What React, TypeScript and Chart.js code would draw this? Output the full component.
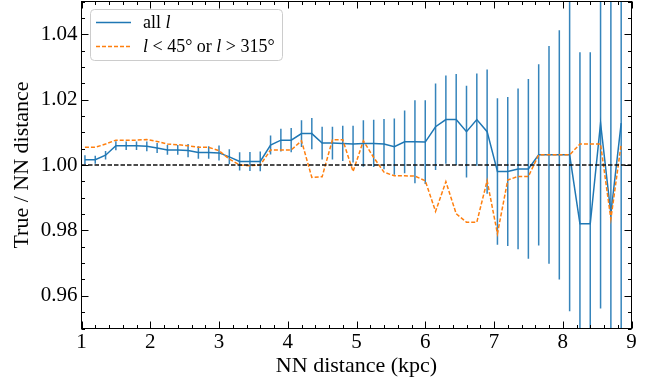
import React, { useEffect, useRef } from "react";
import { Chart, registerables } from "chart.js";
Chart.register(...registerables);

// NN distance bin centres (kpc)
const nnDistance = [
  1.05, 1.2, 1.35, 1.5, 1.65, 1.8, 1.95, 2.1, 2.25, 2.4, 2.55, 2.7, 2.85, 3.0,
  3.15, 3.3, 3.45, 3.6, 3.75, 3.9, 4.05, 4.2, 4.35, 4.5, 4.65, 4.8, 4.95, 5.1,
  5.25, 5.4, 5.55, 5.7, 5.85, 6.0, 6.15, 6.3, 6.45, 6.6, 6.75, 6.9, 7.05, 7.2,
  7.35, 7.5, 7.65, 7.8, 7.95, 8.1, 8.25, 8.4, 8.55, 8.7, 8.85,
];

// "all l" ratio
const allL = [
  1.0016, 1.0016, 1.003, 1.0059, 1.0059, 1.0059, 1.0057, 1.0052, 1.0046, 1.0046,
  1.0044, 1.0038, 1.0038, 1.0037, 1.0025, 1.0011, 1.0011, 1.0011, 1.0061, 1.0076,
  1.0076, 1.0096, 1.0096, 1.0067, 1.0067, 1.0066, 1.0064, 1.0066, 1.0066, 1.0064,
  1.0056, 1.0071, 1.0071, 1.007, 1.0117, 1.0139, 1.0139, 1.0102, 1.0139, 1.0102,
  0.998, 0.998, 0.9988, 0.9988, 1.0031, 1.0031, 1.0031, 1.0031, 0.982, 0.982,
  1.0128, 0.9851, 1.0128,
];

// "all l" error (half length of bar)
const allLErr = [
  0.0014, 0.0012, 0.0013, 0.0014, 0.0013, 0.0013, 0.0015, 0.0015, 0.0015, 0.0015,
  0.002, 0.0019, 0.0019, 0.0023, 0.0023, 0.0028, 0.0029, 0.003, 0.0029, 0.0035,
  0.0037, 0.0041, 0.0048, 0.005, 0.005, 0.0054, 0.0056, 0.0071, 0.0072, 0.0077,
  0.0086, 0.0096, 0.0127, 0.0128, 0.0132, 0.0135, 0.0139, 0.014, 0.0141, 0.019,
  0.0224, 0.0228, 0.0246, 0.0275, 0.0277, 0.0333, 0.0381, 0.0478, 0.0525, 0.0525,
  0.0567, 0.07, 0.07,
];

// "l < 45 or l > 315" ratio
const restrictedL = [
  1.0054, 1.0054, 1.0064, 1.0076, 1.0076, 1.0076, 1.0078, 1.0072, 1.0064, 1.0062,
  1.0059, 1.0054, 1.0054, 1.0044, 1.0018, 1.0, 0.9998, 1.0, 1.0046, 1.0046,
  1.0046, 1.0074, 0.9962, 0.9964, 1.0077, 1.0077, 0.998, 1.0074, 1.0023, 0.9978,
  0.9967, 0.9967, 0.9966, 0.9952, 0.9858, 0.9949, 0.9851, 0.9825, 0.9825, 0.9952,
  0.979, 0.9954, 0.9965, 0.9965, 1.0031, 1.0031, 1.0031, 1.0031, 1.0064, 1.0064,
  1.0064, 0.9835, 1.0064,
];

const xTicks = [1, 2, 3, 4, 5, 6, 7, 8, 9];
const yTicks = [0.96, 0.98, 1.0, 1.02, 1.04];
const refLevel = 1.0;
const xRange = [1, 9];
const yRange = [0.95, 1.05];

const BLUE = "#1f77b4";
const ORANGE = "#ff7f0e";
const FONT = "'Liberation Serif', 'DejaVu Serif', serif";

const errorBarPlugin = {
  id: "errorBars",
  beforeDatasetsDraw(chart: any) {
    const { ctx, chartArea, scales } = chart;
    const xs = scales.x;
    const ys = scales.y;
    ctx.save();
    ctx.beginPath();
    ctx.rect(chartArea.left, chartArea.top, chartArea.right - chartArea.left, chartArea.bottom - chartArea.top);
    ctx.clip();
    ctx.strokeStyle = "rgba(31,119,180,0.9)";
    ctx.lineWidth = 1.5;
    for (let i = 0; i < nnDistance.length; i++) {
      const px = xs.getPixelForValue(nnDistance[i]);
      const y1 = ys.getPixelForValue(allL[i] - allLErr[i]);
      const y2 = ys.getPixelForValue(allL[i] + allLErr[i]);
      ctx.beginPath();
      ctx.moveTo(px, y1);
      ctx.lineTo(px, y2);
      ctx.stroke();
    }
    ctx.restore();
  },
};

const framePlugin = {
  id: "frameTicks",
  afterDatasetsDraw(chart: any) {
    const { ctx, chartArea, scales } = chart;
    const { left, right, top, bottom } = chartArea;
    const xs = scales.x;
    const ys = scales.y;
    ctx.save();
    ctx.strokeStyle = "#000";
    ctx.lineWidth = 1;
    ctx.strokeRect(left, top, right - left, bottom - top);
    const major = 7;
    const minor = 3.5;
    ctx.beginPath();
    for (let v = xRange[0]; v <= xRange[1] + 1e-9; v += 0.2) {
      const isMajor = Math.abs(v - Math.round(v)) < 1e-6;
      const len = isMajor ? major : minor;
      const px = Math.round(xs.getPixelForValue(v)) + 0.5;
      ctx.moveTo(px, bottom);
      ctx.lineTo(px, bottom - len);
      ctx.moveTo(px, top);
      ctx.lineTo(px, top + len);
    }
    for (let v = yRange[0]; v <= yRange[1] + 1e-9; v += 0.005) {
      const isMajor = yTicks.some((t) => Math.abs(t - v) < 1e-6);
      const len = isMajor ? major : minor;
      const py = Math.round(ys.getPixelForValue(v)) + 0.5;
      ctx.moveTo(left, py);
      ctx.lineTo(left + len, py);
      ctx.moveTo(right, py);
      ctx.lineTo(right - len, py);
    }
    ctx.stroke();
    ctx.restore();
  },
};

function drawRich(ctx: CanvasRenderingContext2D, parts: [string, boolean][], x: number, y: number, size: number) {
  let cx = x;
  for (const [txt, italic] of parts) {
    ctx.font = `${italic ? "italic " : ""}${size}px ${FONT}`;
    ctx.fillText(txt, cx, y);
    cx += ctx.measureText(txt).width;
  }
}

const legendPlugin = {
  id: "customLegend",
  afterDraw(chart: any) {
    const { ctx } = chart;
    ctx.save();
    const bx = 90.5, by = 9.5, bw = 192, bh = 51;
    ctx.beginPath();
    ctx.roundRect(bx, by, bw, bh, 4);
    ctx.fillStyle = "rgba(255,255,255,0.8)";
    ctx.fill();
    ctx.strokeStyle = "#cccccc";
    ctx.lineWidth = 1;
    ctx.stroke();

    ctx.lineWidth = 1.5;
    ctx.strokeStyle = BLUE;
    ctx.beginPath();
    ctx.moveTo(96, 22.5);
    ctx.lineTo(131, 22.5);
    ctx.stroke();

    ctx.strokeStyle = ORANGE;
    ctx.setLineDash([4, 2]);
    ctx.beginPath();
    ctx.moveTo(96, 46.5);
    ctx.lineTo(131, 46.5);
    ctx.stroke();
    ctx.setLineDash([]);

    ctx.fillStyle = "#000";
    ctx.textBaseline = "middle";
    ctx.textAlign = "left";
    drawRich(ctx, [["all ", false], ["l", true]], 143, 23, 18);
    drawRich(
      ctx,
      [["l", true], [" < 45° or ", false], ["l", true], [" > 315°", false]],
      143,
      47,
      18
    );
    ctx.restore();
  },
};

export default function App() {
  const ref = useRef<HTMLCanvasElement>(null);
  useEffect(() => {
    document.body.style.margin = "0";
    const canvas = ref.current!;
    const chart = new Chart(canvas, {
      type: "line",
      data: {
        datasets: [
          {
            label: "ref",
            data: xRange.map((x) => ({ x, y: refLevel })),
            borderColor: "#111",
            borderWidth: 1.3,
            borderDash: [4.5, 2],
            pointRadius: 0,
            fill: false,
          },
          {
            label: "l < 45° or l > 315°",
            data: nnDistance.map((x, i) => ({ x, y: restrictedL[i] })),
            borderColor: ORANGE,
            borderWidth: 1.5,
            borderDash: [4, 2],
            pointRadius: 0,
            tension: 0,
            fill: false,
          },
          {
            label: "all l",
            data: nnDistance.map((x, i) => ({ x, y: allL[i] })),
            borderColor: BLUE,
            borderWidth: 1.5,
            pointRadius: 0,
            tension: 0,
            fill: false,
          },
        ],
      },
      options: {
        animation: false,
        responsive: false,
        events: [],
        layout: { padding: { left: 0, top: 1.5, right: 28.5, bottom: 0 } },
        plugins: { legend: { display: false }, tooltip: { enabled: false } },
        scales: {
          x: {
            type: "linear",
            min: xRange[0],
            max: xRange[1],
            grid: { display: false, drawTicks: false },
            border: { display: false },
            ticks: {
              color: "#000",
              font: { family: FONT, size: 21 },
              padding: 1,
              maxRotation: 0,
              callback: (v: any) => String(v),
            },
            afterBuildTicks: (s: any) => {
              s.ticks = xTicks.map((v) => ({ value: v }));
            },
            afterFit: (s: any) => {
              s.height = 55.5;
              s.paddingLeft = 0;
              s.paddingRight = 0;
              s.paddingTop = 0;
              s.paddingBottom = 0;
            },
            title: {
              display: true,
              text: "NN distance (kpc)",
              color: "#000",
              font: { family: FONT, size: 22 },
              padding: { top: 0, bottom: 5 },
            },
          },
          y: {
            type: "linear",
            min: yRange[0],
            max: yRange[1],
            grid: { display: false, drawTicks: false },
            border: { display: false },
            ticks: {
              color: "#000",
              font: { family: FONT, size: 21 },
              padding: 4,
              callback: (v: any) => Number(v).toFixed(2),
            },
            afterBuildTicks: (s: any) => {
              s.ticks = yTicks.map((v) => ({ value: v }));
            },
            afterFit: (s: any) => {
              s.width = 81.5;
              s.paddingLeft = 0;
              s.paddingRight = 0;
              s.paddingTop = 0;
              s.paddingBottom = 0;
            },
            title: {
              display: true,
              text: "True / NN distance",
              color: "#000",
              font: { family: FONT, size: 22 },
              padding: { top: 9, bottom: 0 },
            },
          },
        },
      },
      plugins: [errorBarPlugin, framePlugin, legendPlugin],
    } as any);
    return () => chart.destroy();
  }, []);
  return (
    <div style={{ position: "absolute", left: 0, top: 0, width: 660, height: 384 }}>
      <canvas ref={ref} width={660} height={384} style={{ display: "block", width: 660, height: 384 }} />
    </div>
  );
}
